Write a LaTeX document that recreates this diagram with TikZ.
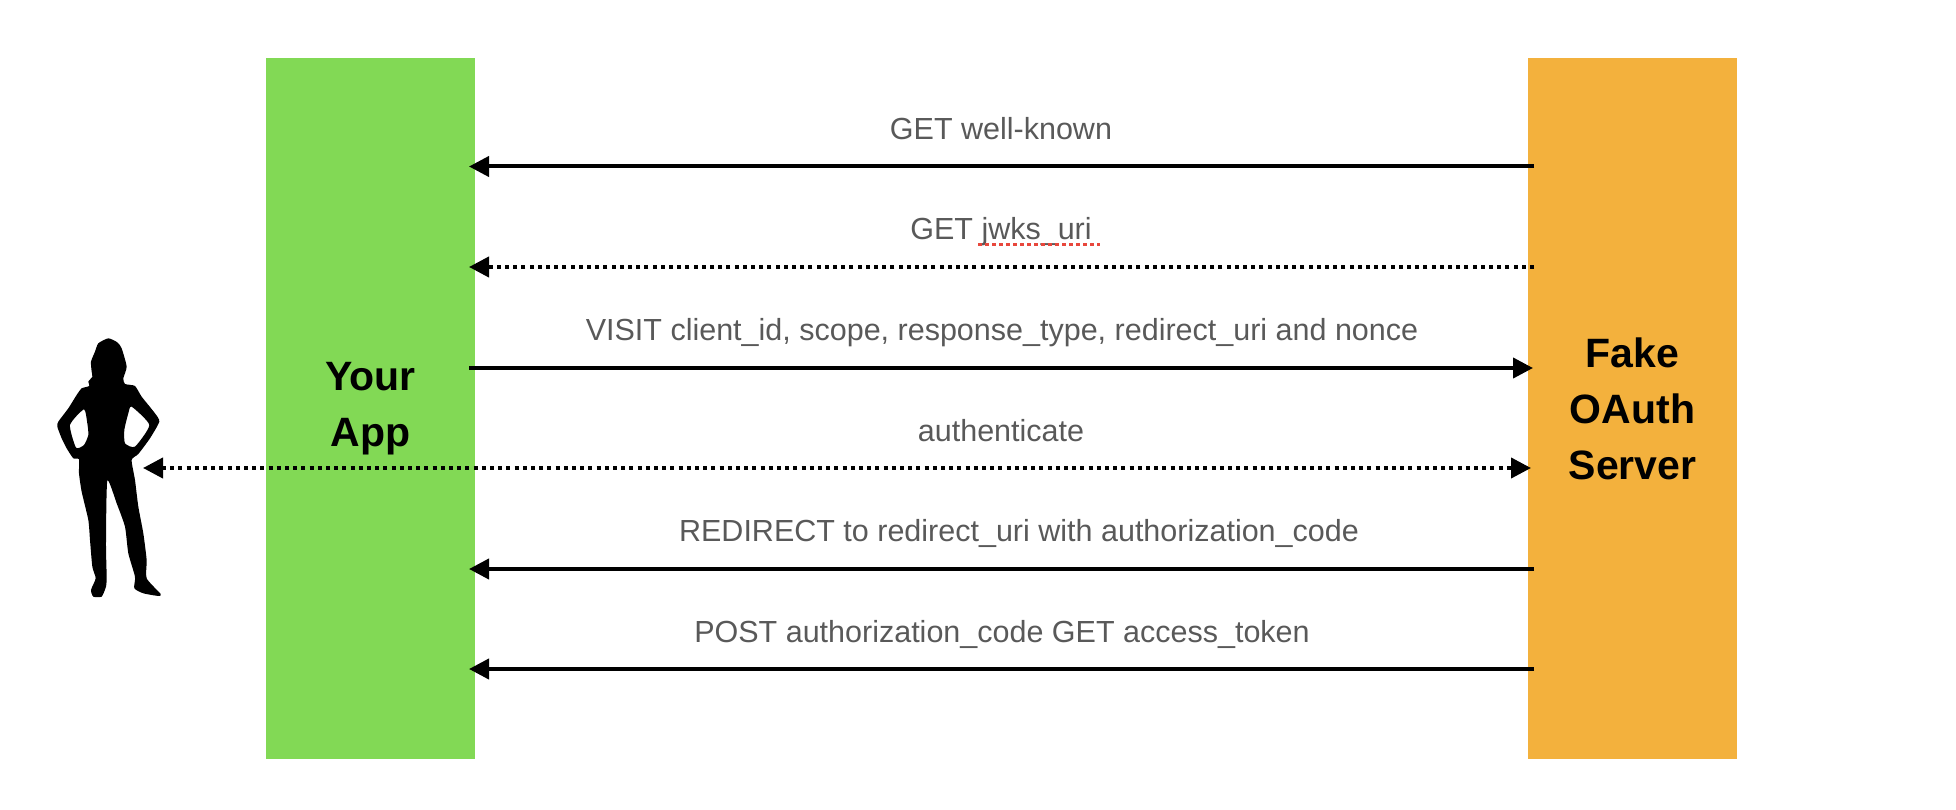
\documentclass[tikz,border=0pt]{standalone}
\usepackage{fontspec}
\setmainfont{Liberation Sans}
\usetikzlibrary{arrows.meta}
\definecolor{appgreen}{HTML}{82D955}
\definecolor{srvorange}{HTML}{F3B13D}
\definecolor{labelgray}{HTML}{595959}
\definecolor{spellred}{HTML}{E8473C}
\tikzset{
  sysbox/.style={anchor=north west,minimum width=209pt,minimum height=701pt,inner sep=0pt,outer sep=0pt,align=center,font=\fontsize{41}{56}\selectfont\bfseries,text=black},
  msg/.style={line width=4pt,-{Triangle[length=20pt,width=20pt,sep=0pt]}},
  dotmsg/.style={msg,dash pattern=on 4pt off 4.2pt},
  biarrow/.style={dotmsg,{Triangle[length=20pt,width=20pt,sep=0pt]}-{Triangle[length=20pt,width=20pt,sep=0pt]}},
  msglabel/.style={font=\fontsize{30.5}{36}\selectfont,text=labelgray,inner sep=0pt,anchor=base}
}
\begin{document}
\begin{tikzpicture}[x=1pt,y=-1pt]
\useasboundingbox (0,0) rectangle (1956,810);
\node[sysbox,fill=appgreen] (app) at (266,58) {Your\\App};
\node[sysbox,fill=srvorange] (srv) at (1528,58) {Fake\\OAuth\\Server};
% person silhouette
\begin{scope}[shift={(30,310)},x=0.3333pt,y=-0.3333pt]
\fill[black,even odd rule]
 plot[smooth cycle,tension=0.35] coordinates {(235,85)(205,100)(195,125)(183,155)(185,185)(187,200)(175,215)(178,228)(155,235)(140,255)(115,295)(85,335)(82,350)(95,385)(110,415)(130,445)(147,448)(147,490)(155,545)(175,630)(180,690)(187,770)(197,805)(183,840)(190,860)(215,860)(228,830)(230,800)(228,700)(232,512)(260,580)(285,650)(295,730)(315,800)(313,835)(340,850)(385,858)(392,852)(350,805)(350,750)(340,670)(325,590)(315,510)(305,450)(325,432)(360,385)(388,335)(375,310)(335,260)(315,228)(285,222)(280,205)(290,170)(275,115)(262,97)}
 plot[smooth cycle,tension=0.35] coordinates {(162,298)(120,345)(138,413)(162,405)(175,375)(172,340)}
 plot[smooth cycle,tension=0.35] coordinates {(305,290)(358,345)(315,410)(285,400)(283,360)(295,310)};
\end{scope}
\coordinate (person) at (143,468);
\coordinate (a1) at (469,166.5); \coordinate (s1) at (1534,166.5);
\coordinate (a2) at (469,267);   \coordinate (s2) at (1534,267);
\coordinate (a3) at (469,368);   \coordinate (s3) at (1533,368);
\coordinate (s4) at (1531,468);
\coordinate (a5) at (469,569);   \coordinate (s5) at (1534,569);
\coordinate (a6) at (469,669);   \coordinate (s6) at (1534,669);
\draw[msg] (s1) -- (a1);
\draw[dotmsg] (s2) -- (a2);
\draw[msg] (a3) -- (s3);
\draw[biarrow] (person) -- (s4);
\draw[msg] (s5) -- (a5);
\draw[msg] (s6) -- (a6);
\node[msglabel] (l1) at (1001,140) {GET well-known};
\node[msglabel] (l2) at (1001,240) {GET jwks\_uri};
\node[msglabel] (l3) at (1002,340) {VISIT client\_id, scope, response\_type, redirect\_uri and nonce};
\node[msglabel] (l4) at (1001,441) {authenticate};
\node[msglabel] (l5) at (1019,541) {REDIRECT to redirect\_uri with authorization\_code};
\node[msglabel] (l6) at (1002,642) {POST authorization\_code GET access\_token};
\draw[spellred,line width=2.5pt,dash pattern=on 3.5pt off 3.5pt] (978,244.5) -- (1100,244.5);
\end{tikzpicture}
\end{document}
